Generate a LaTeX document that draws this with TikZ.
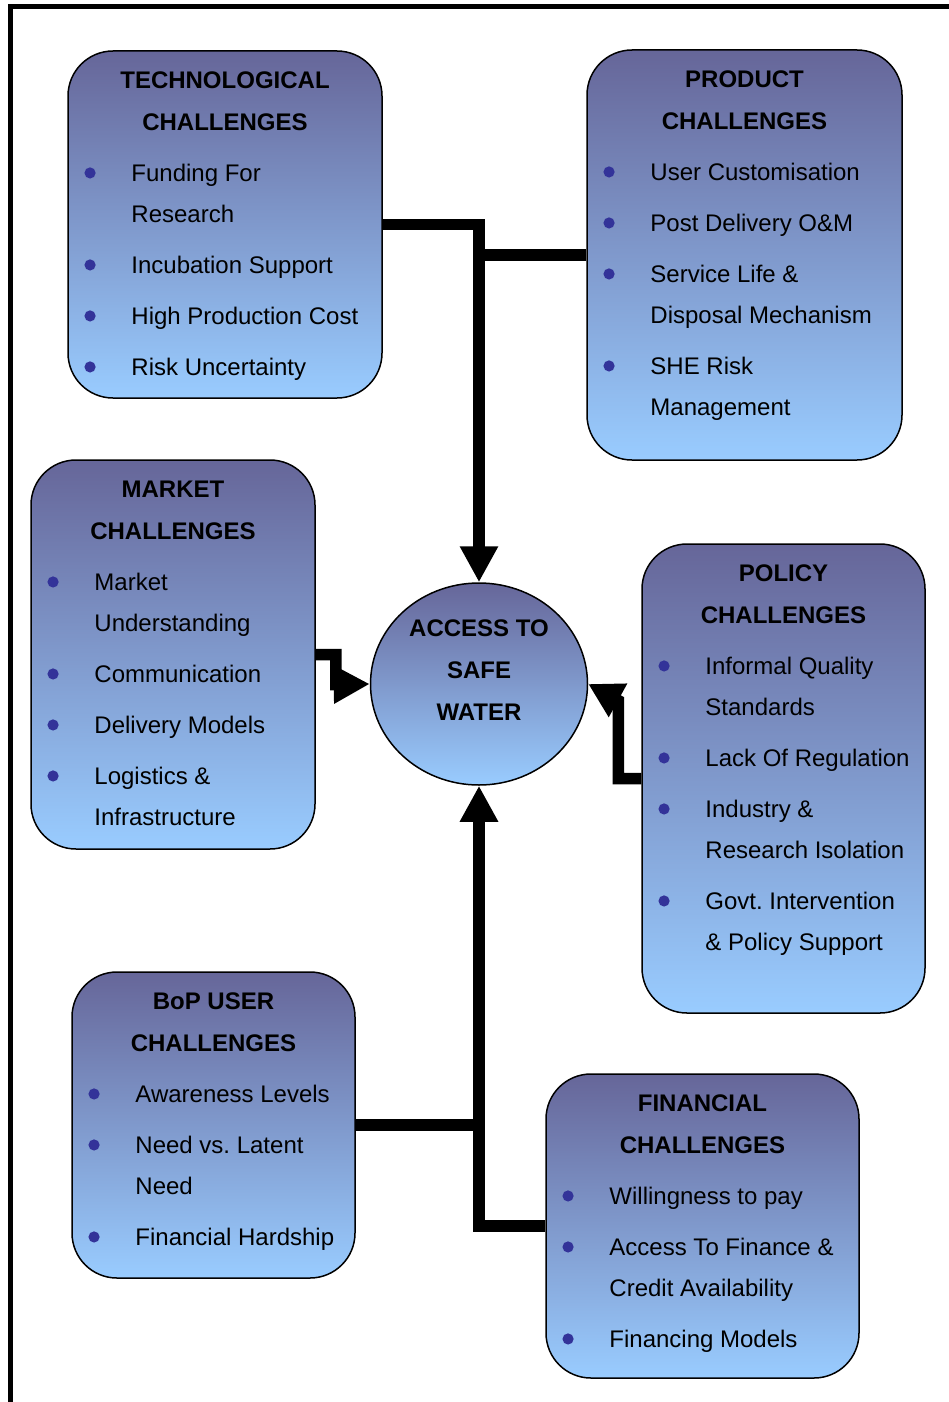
\documentclass[tikz,border=0pt]{standalone}
\usepackage{fontspec}
\setmainfont{Liberation Sans}
\usetikzlibrary{arrows.meta,shapes.geometric}

\definecolor{boxtop}{RGB}{102,102,153}
\definecolor{boxbot}{RGB}{153,204,255}
\definecolor{dotblue}{RGB}{51,51,153}

% round bullet in front of every list entry
\newcommand{\blt}{\makebox[47pt][l]{\tikz[baseline=-8.6pt]\fill[dotblue] (5.6pt,0) circle (5.6pt);}}
% stacked heading lines and bulleted lists
\newcommand{\headtab}[1]{\begin{tabular}{@{}c@{}}#1\end{tabular}}
\newcommand{\itemtab}[1]{\begin{tabular}{@{}l@{}l@{}}#1\end{tabular}}

\begin{document}
\begin{tikzpicture}[x=1pt, y=-1pt,
  box/.style={draw, line width=1.5pt, rounded corners=45pt, top color=boxtop, bottom color=boxbot, inner sep=0pt},
  hubshape/.style={draw, ellipse, line width=1.5pt, top color=boxtop, bottom color=boxbot, inner sep=0pt},
  head/.style={font=\bfseries\fontsize{24}{42}\selectfont, inner sep=0pt, anchor=north},
  items/.style={font=\fontsize{24}{41}\selectfont, inner sep=0pt, anchor=north west},
  link/.style={line width=11.5pt},
  feed/.style={link, -{Triangle[length=36pt, width=36pt]}}
]
\useasboundingbox (0,0) rectangle (949,1402);
\draw[line width=5pt] (10.5,1402) |- (949,6.5);

% the six groups of challenges
\node[box, minimum width=314pt, minimum height=347pt] (tech) at (225,224.5) {};
\node[head] (techhead) at ([yshift=-8.7pt]tech.north) {\headtab{TECHNOLOGICAL\\CHALLENGES}};
\node[items] (techitems) at ([xshift=17pt, yshift=-102.4pt]tech.north west) {\itemtab{
  \blt & Funding For\\ & Research\\[10pt]
  \blt & Incubation Support\\[10pt]
  \blt & High Production Cost\\[10pt]
  \blt & Risk Uncertainty}};

\node[box, minimum width=315pt, minimum height=410pt] (product) at (744.5,255) {};
\node[head] (producthead) at ([yshift=-8.7pt]product.north) {\headtab{PRODUCT\\CHALLENGES}};
\node[items] (productitems) at ([xshift=17pt, yshift=-102.4pt]product.north west) {\itemtab{
  \blt & User Customisation\\[10pt]
  \blt & Post Delivery O\&M\\[10pt]
  \blt & Service Life \&\\ & Disposal Mechanism\\[10pt]
  \blt & SHE Risk\\ & Management}};

\node[box, minimum width=284pt, minimum height=389pt] (market) at (173,654.5) {};
\node[head] (markethead) at ([yshift=-8.7pt]market.north) {\headtab{MARKET\\CHALLENGES}};
\node[items] (marketitems) at ([xshift=17pt, yshift=-102.4pt]market.north west) {\itemtab{
  \blt & Market\\ & Understanding\\[10pt]
  \blt & Communication\\[10pt]
  \blt & Delivery Models\\[10pt]
  \blt & Logistics \&\\ & Infrastructure}};

\node[box, minimum width=283pt, minimum height=469pt] (policy) at (783.5,778.5) {};
\node[head] (policyhead) at ([yshift=-8.7pt]policy.north) {\headtab{POLICY\\CHALLENGES}};
\node[items] (policyitems) at ([xshift=17pt, yshift=-102.4pt]policy.north west) {\itemtab{
  \blt & Informal Quality\\ & Standards\\[10pt]
  \blt & Lack Of Regulation\\[10pt]
  \blt & Industry \&\\ & Research Isolation\\[10pt]
  \blt & Govt.\ Intervention\\ & \& Policy Support}};

\node[box, minimum width=283pt, minimum height=306pt] (bop) at (213.5,1125) {};
\node[head] (bophead) at ([yshift=-8.7pt]bop.north) {\headtab{BoP USER\\CHALLENGES}};
\node[items] (bopitems) at ([xshift=17pt, yshift=-102.4pt]bop.north west) {\itemtab{
  \blt & Awareness Levels\\[10pt]
  \blt & Need vs.\ Latent\\ & Need\\[10pt]
  \blt & Financial Hardship}};

\node[box, minimum width=313pt, minimum height=304pt] (finance) at (702.5,1226) {};
\node[head] (financehead) at ([yshift=-8.7pt]finance.north) {\headtab{FINANCIAL\\CHALLENGES}};
\node[items] (financeitems) at ([xshift=17pt, yshift=-102.4pt]finance.north west) {\itemtab{
  \blt & Willingness to pay\\[10pt]
  \blt & Access To Finance \&\\ & Credit Availability\\[10pt]
  \blt & Financing Models}};

% centre
\node[hubshape, minimum width=217pt, minimum height=202pt] (hub) at (479,684) {};
\node[head] (hubtext) at ([yshift=76.8pt]hub.center) {\headtab{ACCESS TO\\SAFE\\WATER}};

% connectors
\draw[feed] (tech.east) -| (hub.north);
\draw[link] (product.west) -- (product.west -| hub.north);
\draw[feed] (finance.west) -| (hub.south);
\draw[link] (bop.east) -- (bop.east -| hub.south);
\draw[feed] (market.east) -| ++(20,30) -- (hub.west);
\draw[link, -{Triangle[length=34pt, width=36pt]}] (policy.west) -| ++(-23,-78) -- (hub.east);
\end{tikzpicture}
\end{document}
